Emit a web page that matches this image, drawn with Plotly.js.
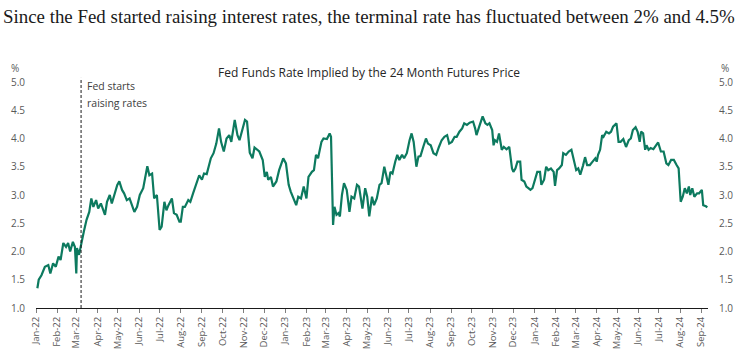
<!DOCTYPE html>
<html>
<head>
<meta charset="utf-8">
<script src="https://cdn.plot.ly/plotly-3.0.1.min.js"></script>
<style>html,body{margin:0;padding:0;background:#fff;}#chart{width:748px;height:359px;}</style>
</head>
<body>
<div id="chart"></div>
<script>
// ---- Data ----
const dates2022 = ['2022-01-03','2022-01-05','2022-01-09','2022-01-14','2022-01-19','2022-01-22','2022-01-26','2022-01-30','2022-02-03','2022-02-06','2022-02-10','2022-02-14','2022-02-17','2022-02-20','2022-02-24','2022-02-27','2022-03-01','2022-03-02','2022-03-05','2022-03-09','2022-03-12','2022-03-16','2022-03-20','2022-03-23','2022-03-26','2022-03-30','2022-04-02','2022-04-06','2022-04-09','2022-04-12','2022-04-15','2022-04-19','2022-04-22','2022-04-27','2022-04-30','2022-05-03','2022-05-07','2022-05-10','2022-05-14','2022-05-18','2022-05-21','2022-05-25','2022-05-29','2022-06-02','2022-06-07','2022-06-13','2022-06-16','2022-06-20','2022-06-23','2022-06-27','2022-07-01','2022-07-04','2022-07-08','2022-07-11','2022-07-14','2022-07-19','2022-07-22','2022-07-26','2022-07-30','2022-08-01','2022-08-04','2022-08-07','2022-08-12','2022-08-15','2022-08-19','2022-08-23','2022-08-28','2022-09-01','2022-09-04','2022-09-08','2022-09-10','2022-09-14','2022-09-18','2022-09-22','2022-09-26','2022-09-29','2022-10-03','2022-10-07','2022-10-11','2022-10-14','2022-10-19','2022-10-23','2022-10-26','2022-10-29','2022-11-03','2022-11-06','2022-11-10','2022-11-14','2022-11-17','2022-11-24','2022-11-29','2022-12-02','2022-12-05','2022-12-07','2022-12-11','2022-12-14','2022-12-19','2022-12-23','2022-12-29'];
const rates2022 = [1.35,1.50,1.58,1.73,1.76,1.61,1.79,1.73,1.91,1.85,2.15,2.08,2.15,2.00,2.17,2.08,1.61,2.06,1.94,2.20,2.35,2.56,2.70,2.94,2.79,2.91,2.76,2.85,2.76,2.65,2.88,3.00,2.85,3.09,3.18,3.24,3.09,3.03,2.91,2.94,2.85,2.70,2.79,3.00,3.12,3.51,3.35,3.38,2.94,3.00,2.38,2.44,2.88,2.73,2.82,2.94,2.68,2.65,2.53,2.53,2.79,2.79,2.91,2.88,3.03,3.18,3.35,3.27,3.38,3.37,3.47,3.65,3.74,3.91,4.18,3.94,3.77,4.00,4.06,3.94,4.33,4.06,3.97,4.12,4.33,4.30,3.75,3.65,3.84,3.77,3.62,3.32,3.41,3.27,3.32,3.15,3.24,3.44,3.65];

const dates2023 = ['2023-01-02','2023-01-06','2023-01-09','2023-01-13','2023-01-17','2023-01-20','2023-01-24','2023-01-28','2023-02-01','2023-02-04','2023-02-09','2023-02-12','2023-02-15','2023-02-18','2023-02-23','2023-02-26','2023-03-03','2023-03-07','2023-03-09','2023-03-12','2023-03-14','2023-03-17','2023-03-20','2023-03-22','2023-03-25','2023-03-28','2023-04-01','2023-04-05','2023-04-08','2023-04-12','2023-04-16','2023-04-19','2023-04-24','2023-04-28','2023-05-01','2023-05-04','2023-05-08','2023-05-11','2023-05-15','2023-05-19','2023-05-22','2023-05-26','2023-05-29','2023-06-01','2023-06-04','2023-06-07','2023-06-11','2023-06-14','2023-06-17','2023-06-21','2023-06-24','2023-06-28','2023-07-02','2023-07-05','2023-07-08','2023-07-12','2023-07-15','2023-07-18','2023-07-22','2023-07-26','2023-07-29','2023-08-02','2023-08-06','2023-08-10','2023-08-14','2023-08-18','2023-08-22','2023-08-26','2023-08-29','2023-09-02','2023-09-06','2023-09-09','2023-09-13','2023-09-17','2023-09-20','2023-09-24','2023-09-28','2023-10-03','2023-10-06','2023-10-08','2023-10-12','2023-10-17','2023-10-21','2023-10-24','2023-10-27','2023-10-31','2023-11-02','2023-11-04','2023-11-07','2023-11-10','2023-11-14','2023-11-17','2023-11-21','2023-11-25','2023-11-29','2023-12-01','2023-12-04','2023-12-07','2023-12-11','2023-12-13','2023-12-17','2023-12-20','2023-12-23','2023-12-26','2023-12-29'];
const rates2023 = [3.56,3.18,3.06,2.94,2.82,2.97,2.94,3.15,2.94,3.32,3.41,3.44,3.71,3.65,3.94,4.00,3.99,4.09,4.03,2.47,2.79,2.65,2.68,2.62,3.00,3.21,3.09,2.70,2.97,2.94,3.18,3.15,2.76,3.12,2.97,2.62,2.97,2.82,2.94,3.18,3.21,3.50,3.32,3.18,3.41,3.38,3.59,3.71,3.62,3.71,3.65,3.74,3.97,4.09,3.94,3.50,3.68,3.69,3.85,4.00,3.91,3.88,3.74,3.71,3.85,3.97,4.03,4.06,3.91,3.94,4.03,4.03,4.12,4.18,4.27,4.24,4.28,4.30,4.18,4.06,4.21,4.39,4.27,4.24,4.27,4.15,3.88,3.97,3.94,4.09,3.80,3.85,3.81,3.85,3.47,3.41,3.47,3.59,3.59,3.27,3.24,3.15,3.12,3.09,3.12];

const dates2024 = ['2024-01-02','2024-01-05','2024-01-09','2024-01-11','2024-01-15','2024-01-18','2024-01-21','2024-01-25','2024-01-29','2024-01-31','2024-02-03','2024-02-06','2024-02-10','2024-02-12','2024-02-16','2024-02-20','2024-02-24','2024-02-28','2024-03-02','2024-03-05','2024-03-08','2024-03-12','2024-03-15','2024-03-18','2024-03-22','2024-03-26','2024-03-30','2024-04-01','2024-04-03','2024-04-06','2024-04-09','2024-04-11','2024-04-15','2024-04-19','2024-04-22','2024-04-25','2024-04-28','2024-04-30','2024-05-03','2024-05-06','2024-05-10','2024-05-14','2024-05-18','2024-05-21','2024-05-24','2024-05-28','2024-05-31','2024-06-03','2024-06-05','2024-06-08','2024-06-11','2024-06-13','2024-06-16','2024-06-19','2024-06-23','2024-06-27','2024-06-30','2024-07-04','2024-07-08','2024-07-12','2024-07-15','2024-07-19','2024-07-23','2024-07-27','2024-07-30','2024-08-02','2024-08-05','2024-08-08','2024-08-11','2024-08-14','2024-08-16','2024-08-19','2024-08-22','2024-08-26','2024-08-29','2024-09-02','2024-09-04','2024-09-08','2024-09-10'];
const rates2024 = [3.30,3.41,3.41,3.18,3.27,3.50,3.44,3.47,3.41,3.16,3.44,3.47,3.53,3.74,3.71,3.77,3.80,3.59,3.44,3.47,3.36,3.52,3.67,3.53,3.53,3.59,3.65,3.59,3.71,3.80,4.06,4.03,4.12,4.09,4.12,4.21,4.24,4.27,3.94,3.94,3.99,3.85,3.97,4.00,4.15,4.20,4.12,3.94,4.12,4.09,3.80,3.88,3.80,3.83,3.81,3.88,3.93,3.77,3.77,3.56,3.53,3.62,3.62,3.53,3.47,2.88,2.97,3.12,3.03,3.15,3.00,3.12,2.97,3.03,3.03,3.09,2.82,2.80,2.78];

const tickDates = ['2022-01-01','2022-02-01','2022-03-01','2022-04-01','2022-05-01','2022-06-01','2022-07-01','2022-08-01','2022-09-01','2022-10-01','2022-11-01','2022-12-01','2023-01-01','2023-02-01','2023-03-01','2023-04-01','2023-05-01','2023-06-01','2023-07-01','2023-08-01','2023-09-01','2023-10-01','2023-11-01','2023-12-01','2024-01-01','2024-02-01','2024-03-01','2024-04-01','2024-05-01','2024-06-01','2024-07-01','2024-08-01','2024-09-01'];
const tickLabels = ['Jan-22','Feb-22','Mar-22','Apr-22','May-22','Jun-22','Jul-22','Aug-22','Sep-22','Oct-22','Nov-22','Dec-22','Jan-23','Feb-23','Mar-23','Apr-23','May-23','Jun-23','Jul-23','Aug-23','Sep-23','Oct-23','Nov-23','Dec-23','Jan-24','Feb-24','Mar-24','Apr-24','May-24','Jun-24','Jul-24','Aug-24','Sep-24'];

const hikeStartDate = '2022-03-08';
const hikeLabel = ['Fed starts', 'raising rates'];

const dates = dates2022.concat(dates2023, dates2024);
const rates = rates2022.concat(rates2023, rates2024);

// ---- Chart ----
const lineColor = '#0d7a5f';
const axisTextColor = '#595959';

const traces = [
  {x: dates, y: rates, type: 'scatter', mode: 'lines', line: {color: lineColor, width: 2.2}, hoverinfo: 'x+y', yaxis: 'y'},
  {x: dates, y: rates, type: 'scatter', mode: 'lines', line: {color: 'rgba(0,0,0,0)', width: 0}, hoverinfo: 'skip', yaxis: 'y2'}
];

const yCommon = {
  range: [1, 5], dtick: 0.5, tick0: 1, tickformat: '.1f', showgrid: false, zeroline: false,
  showline: false, ticks: 'outside', ticklen: 8, tickcolor: 'rgba(0,0,0,0)',
  tickfont: {family: 'Open Sans', size: 10, color: axisTextColor}, fixedrange: true
};

const layout = {
  width: 748, height: 359,
  margin: {l: 36, r: 40, t: 82, b: 51, pad: 0},
  paper_bgcolor: '#ffffff', plot_bgcolor: '#ffffff',
  showlegend: false,
  font: {family: 'Open Sans', color: axisTextColor, size: 10},
  title: {
    text: 'Since the Fed started raising interest rates, the terminal rate has fluctuated between 2% and 4.5%',
    font: {family: 'Liberation Serif', size: 18.9, color: '#1a1a1a'},
    xref: 'container', x: 0.004, xanchor: 'left',
    yref: 'container', y: 0.953, yanchor: 'middle'
  },
  xaxis: {
    type: 'date', range: ['2022-01-01', '2024-09-11'],
    tickmode: 'array', tickvals: tickDates, ticktext: tickLabels, tickangle: -90,
    ticks: 'outside', ticklen: 4, tickcolor: '#7f7f7f', tickwidth: 1,
    showline: true, linecolor: '#1a1a1a', linewidth: 1,
    showgrid: false, zeroline: false,
    tickfont: {family: 'Open Sans', size: 9.5, color: axisTextColor}, fixedrange: true
  },
  yaxis: Object.assign({}, yCommon, {side: 'left'}),
  yaxis2: Object.assign({}, yCommon, {side: 'right', overlaying: 'y'}),
  shapes: [{
    type: 'line', xref: 'x', yref: 'paper', x0: hikeStartDate, x1: hikeStartDate, y0: 0, y1: 1.018,
    line: {color: '#1a1a1a', width: 1, dash: '3px,2px'}
  }],
  annotations: [
    {text: 'Fed Funds Rate Implied by the 24 Month Futures Price', xref: 'paper', yref: 'paper', x: 0.4955, y: 1.044,
     xanchor: 'center', yanchor: 'middle', showarrow: false, font: {family: 'Open Sans', size: 12, color: '#262626'}},
    {text: '%', xref: 'paper', yref: 'paper', x: -0.031, y: 1.062, xanchor: 'center', yanchor: 'middle', showarrow: false,
     font: {family: 'Open Sans', size: 10, color: axisTextColor}},
    {text: '%', xref: 'paper', yref: 'paper', x: 1.0253, y: 1.062, xanchor: 'center', yanchor: 'middle', showarrow: false,
     font: {family: 'Open Sans', size: 10, color: axisTextColor}},
    {text: hikeLabel[0], xref: 'paper', yref: 'paper', x: 0.0729, y: (308 - 86) / 226, xanchor: 'left', yanchor: 'middle', showarrow: false,
     font: {family: 'Open Sans', size: 10.5, color: '#404040'}},
    {text: hikeLabel[1], xref: 'paper', yref: 'paper', x: 0.0729, y: (308 - 103) / 226, xanchor: 'left', yanchor: 'middle', showarrow: false,
     font: {family: 'Open Sans', size: 10.5, color: '#404040'}}
  ]
};

Plotly.newPlot('chart', traces, layout, {displayModeBar: false, staticPlot: true});
</script>
</body>
</html>
